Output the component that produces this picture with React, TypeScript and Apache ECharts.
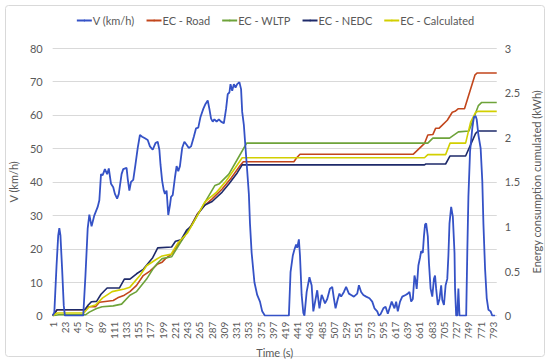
import React, { useEffect, useRef } from 'react';
import * as echarts from 'echarts';

const seriesNames = ['V (km/h)', 'EC - Road', 'EC - WLTP', 'EC - NEDC', 'EC - Calculated'];
const seriesColors = ['#3552C6', '#C2461C', '#6EA33A', '#1E2A6A', '#D2CF00'];

// [time (s), speed km/h]
const speed: number[][] = [
  [1, 0], [4, 1], [8, 15], [11, 24], [13, 26.2], [15, 24], [18, 14], [21, 3], [23, 0], [56, 0], [60, 12], [64, 26],
  [67, 30.2], [71, 26.7], [76, 30], [82, 32.5], [85, 34.5], [88, 42.3], [91, 42], [95, 43.8], [99, 42.3], [102, 44],
  [106, 39.4], [110, 38.4], [113, 36.4], [117, 35], [120, 36.4], [125, 42.3], [128, 43.8], [134, 44.2], [136, 41],
  [139, 37.4], [142, 40], [146, 40.6], [150, 45.2], [154, 50.1], [158, 54], [162, 53.5], [167, 53], [172, 52.5],
  [176, 50.6], [181, 49.6], [186, 51.6], [190, 52], [193, 49.6], [195, 45.2], [198, 40.3], [201, 37.4], [203, 36.4],
  [206, 37.4], [209, 30.1], [212, 33], [214, 35.5], [217, 36], [221, 41.3], [224, 44.7], [227, 43.2], [230, 44.7],
  [234, 50.1], [238, 52], [242, 51.1], [246, 50.1], [250, 50.6], [255, 53.5], [259, 56], [263, 56.2], [267, 59.4],
  [272, 61.8], [276, 63.3], [280, 64.3], [283, 61.8], [286, 58.9], [289, 58], [292, 58.7], [296, 58], [300, 58.7],
  [304, 58], [309, 57.5], [313, 61.8], [316, 66.2], [319, 66.7], [321, 69.2], [324, 67.2], [327, 69.2], [330, 68.2],
  [333, 69.2], [337, 69.8], [340, 67.7], [342, 60.9], [345, 57], [348, 50.1], [351, 43.3], [354, 36.4], [356, 27.6],
  [359, 18.8], [364, 10], [369, 6.2], [374, 4.2], [378, 1.3], [383, 0], [426, 0], [429, 13], [433, 17.9], [436, 19.8],
  [439, 21.3], [441, 20.3], [444, 22.8], [446, 17.9], [449, 6.2], [452, 0.8], [454, 0], [458, 7.1], [463, 11.5],
  [467, 9], [470, 1.3], [473, 4], [477, 7.6], [481, 2.2], [485, 6.2], [488, 5], [491, 3.7], [495, 5], [500, 8.1],
  [504, 8.6], [507, 5.2], [510, 2.2], [514, 5], [517, 6.6], [520, 5.7], [525, 7.1], [529, 8.6], [534, 6.6], [538, 6.2],
  [543, 5.7], [549, 6.6], [552, 9.1], [556, 7.1], [560, 6.2], [565, 5.7], [571, 5.2], [576, 4.2], [580, 2.2],
  [585, 1.3], [588, 0], [591, 0.5], [596, 2.2], [600, 2.7], [604, 0.6], [608, 2.7], [611, 4.2], [616, 2.2], [619, 4.2],
  [622, 1.3], [626, 4.2], [630, 5.7], [636, 6.2], [640, 6.6], [643, 7.1], [646, 4.2], [649, 5], [652, 12], [654, 10.5],
  [656, 8], [659, 15], [662, 17.4], [664, 19.3], [667, 18.8], [669, 23.7], [671, 27.2], [673, 27.6], [676, 23.7],
  [678, 15.9], [681, 8.1], [684, 5.7], [687, 11], [689, 12], [691, 8], [694, 3.2], [697, 5], [700, 9.1], [702, 4.7],
  [705, 3.2], [708, 9.1], [711, 11], [713, 17.9], [715, 27.6], [718, 32.5], [721, 29.6], [724, 18.8], [725, 8],
  [727, 0], [729, 0], [731, 8.1], [733, 0], [745, 0], [747, 18.8], [749, 35.5], [752, 49.1], [756, 56], [759, 59.4],
  [762, 59.7], [764, 58.6], [767, 54], [771, 50.1], [774, 40.3], [776, 27.6], [779, 14], [782, 5.2], [785, 1.8],
  [789, 1.3], [792, 0], [797, 0],
];

// [time (s), kWh]
const ecRoad: number[][] = [
  [1, 0], [9, 0.066], [58, 0.066], [64, 0.1], [78, 0.1], [85, 0.15], [110, 0.17], [118, 0.2], [130, 0.23], [140, 0.27],
  [152, 0.34], [164, 0.45], [176, 0.5], [190, 0.58], [198, 0.6], [204, 0.64], [215, 0.69], [227, 0.8], [238, 0.89],
  [250, 1.01], [262, 1.146], [275, 1.24], [288, 1.31], [306, 1.42], [323, 1.55], [338, 1.68], [344, 1.725],
  [435, 1.725], [440, 1.77], [446, 1.81], [650, 1.81], [665, 1.9], [670, 1.93], [676, 2.025], [685, 2.03], [690, 2.1],
  [696, 2.1], [702, 2.135], [711, 2.19], [720, 2.28], [725, 2.29], [731, 2.32], [742, 2.32], [753, 2.54], [761, 2.7],
  [765, 2.72], [800, 2.72],
];

const ecWltp: number[][] = [
  [1, 0], [12, 0.01], [60, 0.01], [67, 0.04], [80, 0.08], [90, 0.1], [110, 0.11], [125, 0.13], [140, 0.23],
  [152, 0.27], [170, 0.41], [181, 0.52], [190, 0.59], [198, 0.64], [215, 0.66], [227, 0.78], [238, 0.89],
  [255, 1.055], [272, 1.24], [293, 1.46], [301, 1.48], [318, 1.586], [335, 1.77], [350, 1.934], [676, 1.934],
  [685, 1.99], [715, 1.99], [731, 2.06], [750, 2.07], [767, 2.355], [773, 2.39], [800, 2.39],
];

const ecNedc: number[][] = [
  [1, 0], [9, 0.066], [59, 0.066], [65, 0.12], [71, 0.157], [80, 0.16], [88, 0.24], [99, 0.31], [121, 0.31],
  [130, 0.41], [140, 0.41], [152, 0.47], [164, 0.52], [181, 0.65], [190, 0.76], [215, 0.77], [222, 0.835],
  [232, 0.85], [242, 0.96], [250, 1.0], [262, 1.14], [275, 1.24], [288, 1.28], [306, 1.385], [318, 1.476],
  [333, 1.6], [342, 1.69], [670, 1.69], [672, 1.7], [708, 1.7], [716, 1.79], [744, 1.79], [762, 2.044], [767, 2.07],
  [800, 2.07],
];

const ecCalc: number[][] = [
  [1, 0], [9, 0.03], [57, 0.03], [67, 0.1], [78, 0.12], [91, 0.2], [108, 0.27], [130, 0.3], [140, 0.32], [158, 0.45],
  [170, 0.56], [187, 0.63], [198, 0.67], [215, 0.69], [216, 0.71], [227, 0.82], [244, 0.93], [262, 1.13],
  [275, 1.275], [296, 1.385], [313, 1.51], [330, 1.66], [342, 1.77], [670, 1.77], [676, 1.805], [708, 1.805],
  [716, 1.934], [744, 1.934], [753, 2.17], [762, 2.28], [767, 2.29], [800, 2.29],
];

const FONT = 'Lato, "Open Sans", sans-serif';
const GRAY = '#595959';

export default function App() {
  const ref = useRef<HTMLDivElement>(null);
  useEffect(() => {
    if (!ref.current) return;
    const chart = echarts.init(ref.current, undefined, { renderer: 'svg' });
    const data = [speed, ecRoad, ecWltp, ecNedc, ecCalc];
    chart.setOption({
      animation: false,
      textStyle: { fontFamily: FONT },
      graphic: [
        {
          type: 'rect',
          shape: { x: 5.5, y: 5.5, width: 539, height: 351, r: 3 },
          style: { fill: 'none', stroke: '#D9D9D9', lineWidth: 1 },
          silent: true,
        },
      ],
      legend: {
        top: 10,
        left: 'center',
        itemWidth: 15,
        itemHeight: 2,
        itemGap: 11,
        textStyle: { color: GRAY, fontSize: 11, fontFamily: FONT, padding: [0, 0, 0, -4] },
        data: seriesNames,
      },
      grid: { left: 40, right: 40, top: 48, bottom: 42, containLabel: false },
      xAxis: {
        type: 'value',
        min: 1,
        max: 800,
        interval: 22,
        name: 'Time (s)',
        nameLocation: 'middle',
        nameGap: 26,
        nameTextStyle: { color: GRAY, fontSize: 11, fontFamily: FONT },
        axisLine: { show: true, lineStyle: { color: '#D9D9D9' } },
        axisTick: { show: false },
        splitLine: { show: false },
        axisLabel: {
          rotate: 90,
          color: GRAY,
          fontSize: 10,
          fontFamily: FONT,
          margin: 6,
          formatter: (v: number) => (v === 800 ? '' : String(v)),
        },
      },
      yAxis: [
        {
          type: 'value',
          min: 0,
          max: 80,
          interval: 10,
          name: 'V (km/h)',
          nameLocation: 'middle',
          nameGap: 24,
          nameTextStyle: { color: GRAY, fontSize: 11, fontFamily: FONT },
          axisLine: { show: false },
          axisTick: { show: false },
          axisLabel: { color: GRAY, fontSize: 11, fontFamily: FONT, margin: 10 },
          splitLine: { lineStyle: { color: '#D9D9D9' } },
        },
        {
          type: 'value',
          min: 0,
          max: 3,
          interval: 0.5,
          name: 'Energy consumption cumulated (kWh)',
          nameLocation: 'middle',
          nameGap: 28,
          nameRotate: 90,
          nameTextStyle: { color: GRAY, fontSize: 11, fontFamily: FONT },
          axisLine: { show: false },
          axisTick: { show: false },
          axisLabel: { color: GRAY, fontSize: 11, fontFamily: FONT, margin: 8 },
          splitLine: { show: false },
        },
      ],
      series: seriesNames.map((name, i) => ({
        name,
        type: 'line',
        yAxisIndex: i === 0 ? 0 : 1,
        data: data[i],
        symbol: 'none',
        smooth: false,
        z: i === 0 ? 3 : 2,
        lineStyle: { color: seriesColors[i], width: i === 0 ? 1.8 : 1.6 },
        itemStyle: { color: seriesColors[i] },
      })),
    });
    return () => chart.dispose();
  }, []);
  return <div ref={ref} style={{ position: 'fixed', left: 0, top: 0, width: 550, height: 363, background: '#fff' }} />;
}
